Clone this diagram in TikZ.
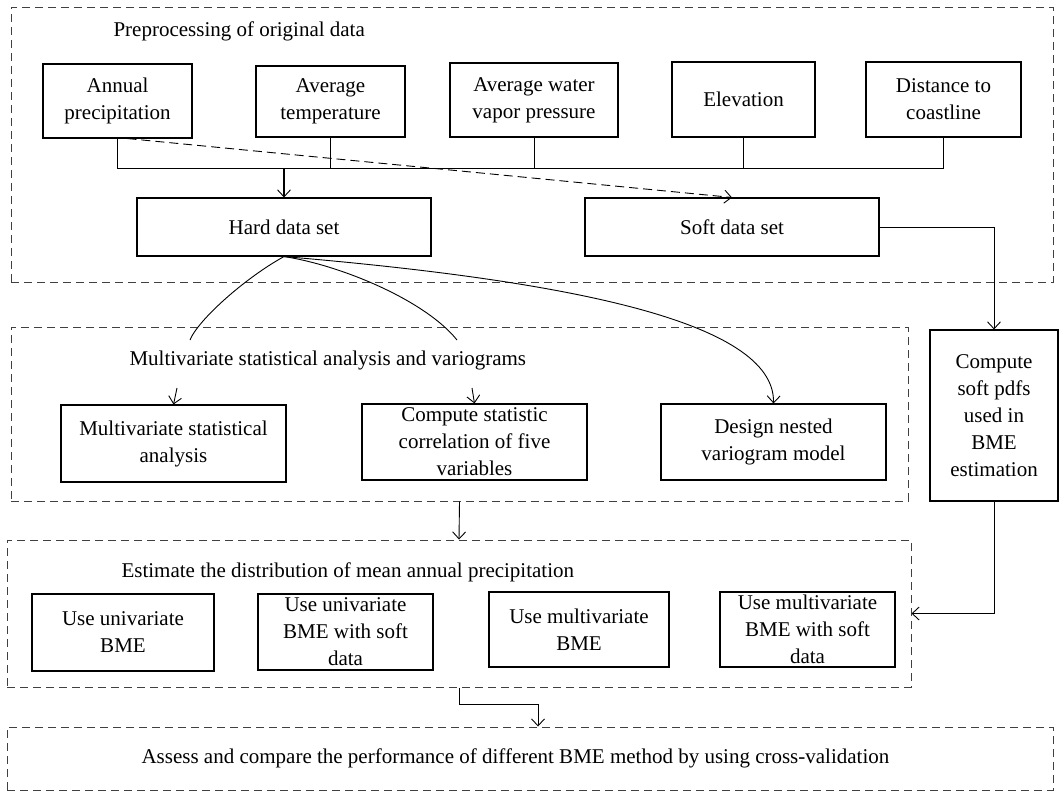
\documentclass[tikz,border=0pt]{standalone}
\usepackage{fontspec}
\setmainfont{Liberation Serif}
\usetikzlibrary{arrows.meta}
\tikzset{>={Straight Barb[length=7pt,width=13pt]}}

\begin{document}
\begin{tikzpicture}[x=1pt, y=-1pt,
  every node/.style={font=\fontsize{21}{27}\selectfont},
  box/.style={draw, line width=1.1pt, align=center, inner sep=0pt},
  frame/.style={draw=black!75, line width=1pt, dash pattern=on 8pt off 5pt, inner sep=0pt},
  link/.style={line width=0.9pt}]
\useasboundingbox (0,0) rectangle (1059,793);

%%% preprocessing of original data %%%
\node[frame, minimum width=1042pt, minimum height=275pt] (prep) at (532,144.5) {};
\node[anchor=west] (preptitle) at (110,31) {Preprocessing of original data};

\node[box, minimum width=149pt, minimum height=74pt] (annual) at (117.5,101) {Annual\\precipitation};
\node[box, minimum width=149pt, minimum height=71pt] (temp) at (330.5,101.5) {Average\\temperature};
\node[box, minimum width=168pt, minimum height=74pt] (vapor) at (534,100) {Average water\\vapor pressure};
\node[box, minimum width=143pt, minimum height=75pt] (elev) at (743.5,99.5) {Elevation};
\node[box, minimum width=155pt, minimum height=75pt] (coast) at (943.5,99.5) {Distance to\\coastline};

\node[box, minimum width=294pt, minimum height=58pt] (hard) at (284,227) {Hard data set};
\node[box, minimum width=294pt, minimum height=58pt] (soft) at (732,227) {Soft data set};

%% collecting line
\coordinate (bus) at (284,168);
\draw[link] (annual.south) |- (coast.south |- bus) -- (coast.south);
\foreach \n in {temp,vapor,elev}
  \draw[link] (\n.south) -- (\n.south |- bus);
\draw[link, line width=1.4pt, -{Straight Barb[length=7pt,width=13pt,line width=0.9pt]}] (bus) -- (hard.north);
\draw[link, dashed, dash pattern=on 9pt off 5pt, ->] ([xshift=10pt]annual.south) -- (soft.north);

%%% multivariate statistical analysis and variograms %%%
\node[frame, minimum width=897pt, minimum height=174pt] (stat) at (459.5,414) {};
\node[anchor=west] (stattitle) at (126,360) {Multivariate statistical analysis and variograms};

\node[box, minimum width=225pt, minimum height=77pt] (msa) at (173.5,443.5) {Multivariate statistical\\analysis};
\node[box, minimum width=225pt, minimum height=76pt] (corr) at (474.5,442) {Compute statistic\\correlation of five\\variables};
\node[box, minimum width=225pt, minimum height=76pt] (nested) at (773.5,442) {Design nested\\variogram model};

\coordinate (c1) at (190,340);
\coordinate (c2) at (457,340);
\coordinate (s1) at (177,388);
\coordinate (s2) at (472,388);
\draw[link] (hard.south) .. controls (245,278) and (198,320) .. (c1);
\draw[link] (hard.south) .. controls (340,265) and (425,300) .. (c2);
\draw[link, ->] (hard.south) .. controls (560,280) and (775,320) .. (nested.north);
\draw[link, ->] (s1) -- (msa.north);
\draw[link, ->] (s2) -- (corr.north);

%% soft pdfs
\node[box, minimum width=128pt, minimum height=171pt] (pdfs) at (994,415.5) {Compute\\soft pdfs\\used in\\BME\\estimation};
\draw[link, ->] (soft.east) -| (pdfs.north);

%%% estimate the distribution %%%
\node[frame, minimum width=904pt, minimum height=147pt] (est) at (459,613.5) {};
\node[anchor=west] (esttitle) at (118,572) {Estimate the distribution of mean annual precipitation};

\node[box, minimum width=182pt, minimum height=77pt] (uni) at (123,632.5) {Use univariate\\BME};
\node[box, minimum width=175pt, minimum height=76pt] (unisoft) at (345.5,632) {Use univariate\\BME with soft\\data};
\node[box, minimum width=180pt, minimum height=75pt] (multi) at (579,629.5) {Use multivariate\\BME};
\node[box, minimum width=175pt, minimum height=75pt] (multisoft) at (807.5,629.5) {Use multivariate\\BME with soft\\data};

\draw[link, ->] (stat.south) -- (est.north);
\draw[link, ->] (pdfs.south) |- (est.east);

%%% assessment %%%
\node[frame, minimum width=1046pt, minimum height=63pt] (assess) at (530,758.5) {};
\node[anchor=west] (assesstext) at (138,758) {Assess and compare the performance of different BME method by using cross-validation};
\draw[link, ->] (est.south) -- ++(0,17) -| ([xshift=8pt]assess.north);

\end{tikzpicture}
\end{document}
